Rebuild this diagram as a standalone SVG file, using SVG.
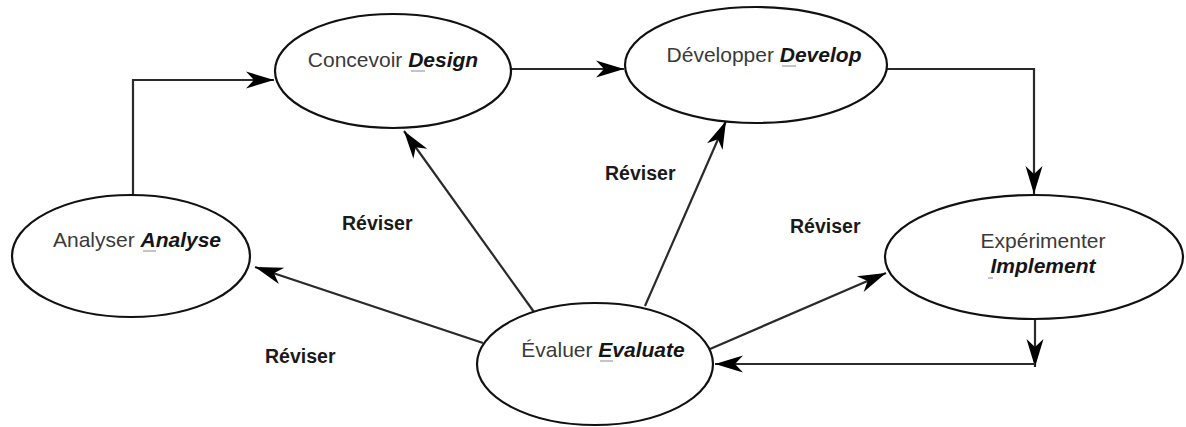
<svg xmlns="http://www.w3.org/2000/svg" width="1186" height="427" viewBox="0 0 1186 427">
  <style>
    .node { fill: #ffffff; stroke: #111111; stroke-width: 2.2; }
    .fr { font-family: "Liberation Sans", Arial, sans-serif; font-size: 21px; fill: #3a3a3a; }
    .en { font-family: "Liberation Sans", Arial, sans-serif; font-size: 21px; font-weight: bold; font-style: italic; fill: #151515; }
    .key { stroke: #b0b0b0; stroke-width: 1.5; }
    .edge { fill: none; stroke: #2a2a2a; stroke-width: 2.2; marker-end: url(#head); }
    .label { font-family: "Liberation Sans", Arial, sans-serif; font-size: 19.5px; font-weight: bold; fill: #1a1a1a; }
  </style>
  <defs>
    <!-- concave filled arrowhead, tip at the path end -->
    <marker id="head" markerUnits="userSpaceOnUse" viewBox="-30 -10 32 20" markerWidth="32" markerHeight="20" refX="0" refY="0" orient="auto">
      <path d="M0,0 L-28,-8.5 L-20,0 L-28,8.5 Z" fill="#000000"/>
    </marker>
  </defs>

  <rect width="1186" height="427" fill="#ffffff"/>

  <!-- connectors -->
  <g id="connectors">
    <path class="edge" d="M133,195 V80 H274"/>
    <path class="edge" d="M511,69 H624"/>
    <path class="edge" d="M887,69 H1034 V194"/>
    <path class="edge" d="M1035,320 V367"/>
    <path class="edge" d="M1035,364 H715"/>
    <path class="edge" d="M710,349 L886,273"/>
    <path class="edge" d="M483,343 L255,267"/>
    <path class="edge" d="M534,312 L404,131"/>
    <path class="edge" d="M645,306 L726,121"/>
  </g>

  <!-- edge labels -->
  <g id="labels">
    <text class="label" x="342" y="230">Réviser</text>
    <text class="label" x="605" y="180">Réviser</text>
    <text class="label" x="790" y="233">Réviser</text>
    <text class="label" x="265" y="363">Réviser</text>
  </g>

  <g id="design">
    <ellipse class="node" cx="393" cy="71" rx="118" ry="57"/>
    <text x="393" y="67" text-anchor="middle"><tspan class="fr">Concevoir </tspan><tspan class="en">Design</tspan></text>
    <line class="key" x1="411" y1="71" x2="425" y2="71"/>
  </g>

  <g id="develop">
    <ellipse class="node" cx="756" cy="65" rx="131" ry="58"/>
    <text x="764" y="62" text-anchor="middle"><tspan class="fr">Développer </tspan><tspan class="en">Develop</tspan></text>
    <line class="key" x1="782" y1="66" x2="796" y2="66"/>
  </g>

  <g id="analyse">
    <ellipse class="node" cx="131" cy="256" rx="119" ry="61"/>
    <text x="137" y="247" text-anchor="middle"><tspan class="fr">Analyser </tspan><tspan class="en">Analyse</tspan></text>
    <line class="key" x1="143" y1="251" x2="156" y2="251"/>
  </g>

  <g id="implement">
    <ellipse class="node" cx="1034" cy="257" rx="149" ry="62"/>
    <text class="fr" x="1043" y="248" text-anchor="middle">Expérimenter</text>
    <text class="en" x="1043" y="273" text-anchor="middle">Implement</text>
    <line class="key" x1="988" y1="278" x2="993" y2="278"/>
  </g>

  <g id="evaluate">
    <ellipse class="node" cx="595" cy="364" rx="118" ry="61"/>
    <text x="603" y="357" text-anchor="middle"><tspan class="fr">Évaluer </tspan><tspan class="en">Evaluate</tspan></text>
    <line class="key" x1="600" y1="361" x2="613" y2="361"/>
  </g>
</svg>
